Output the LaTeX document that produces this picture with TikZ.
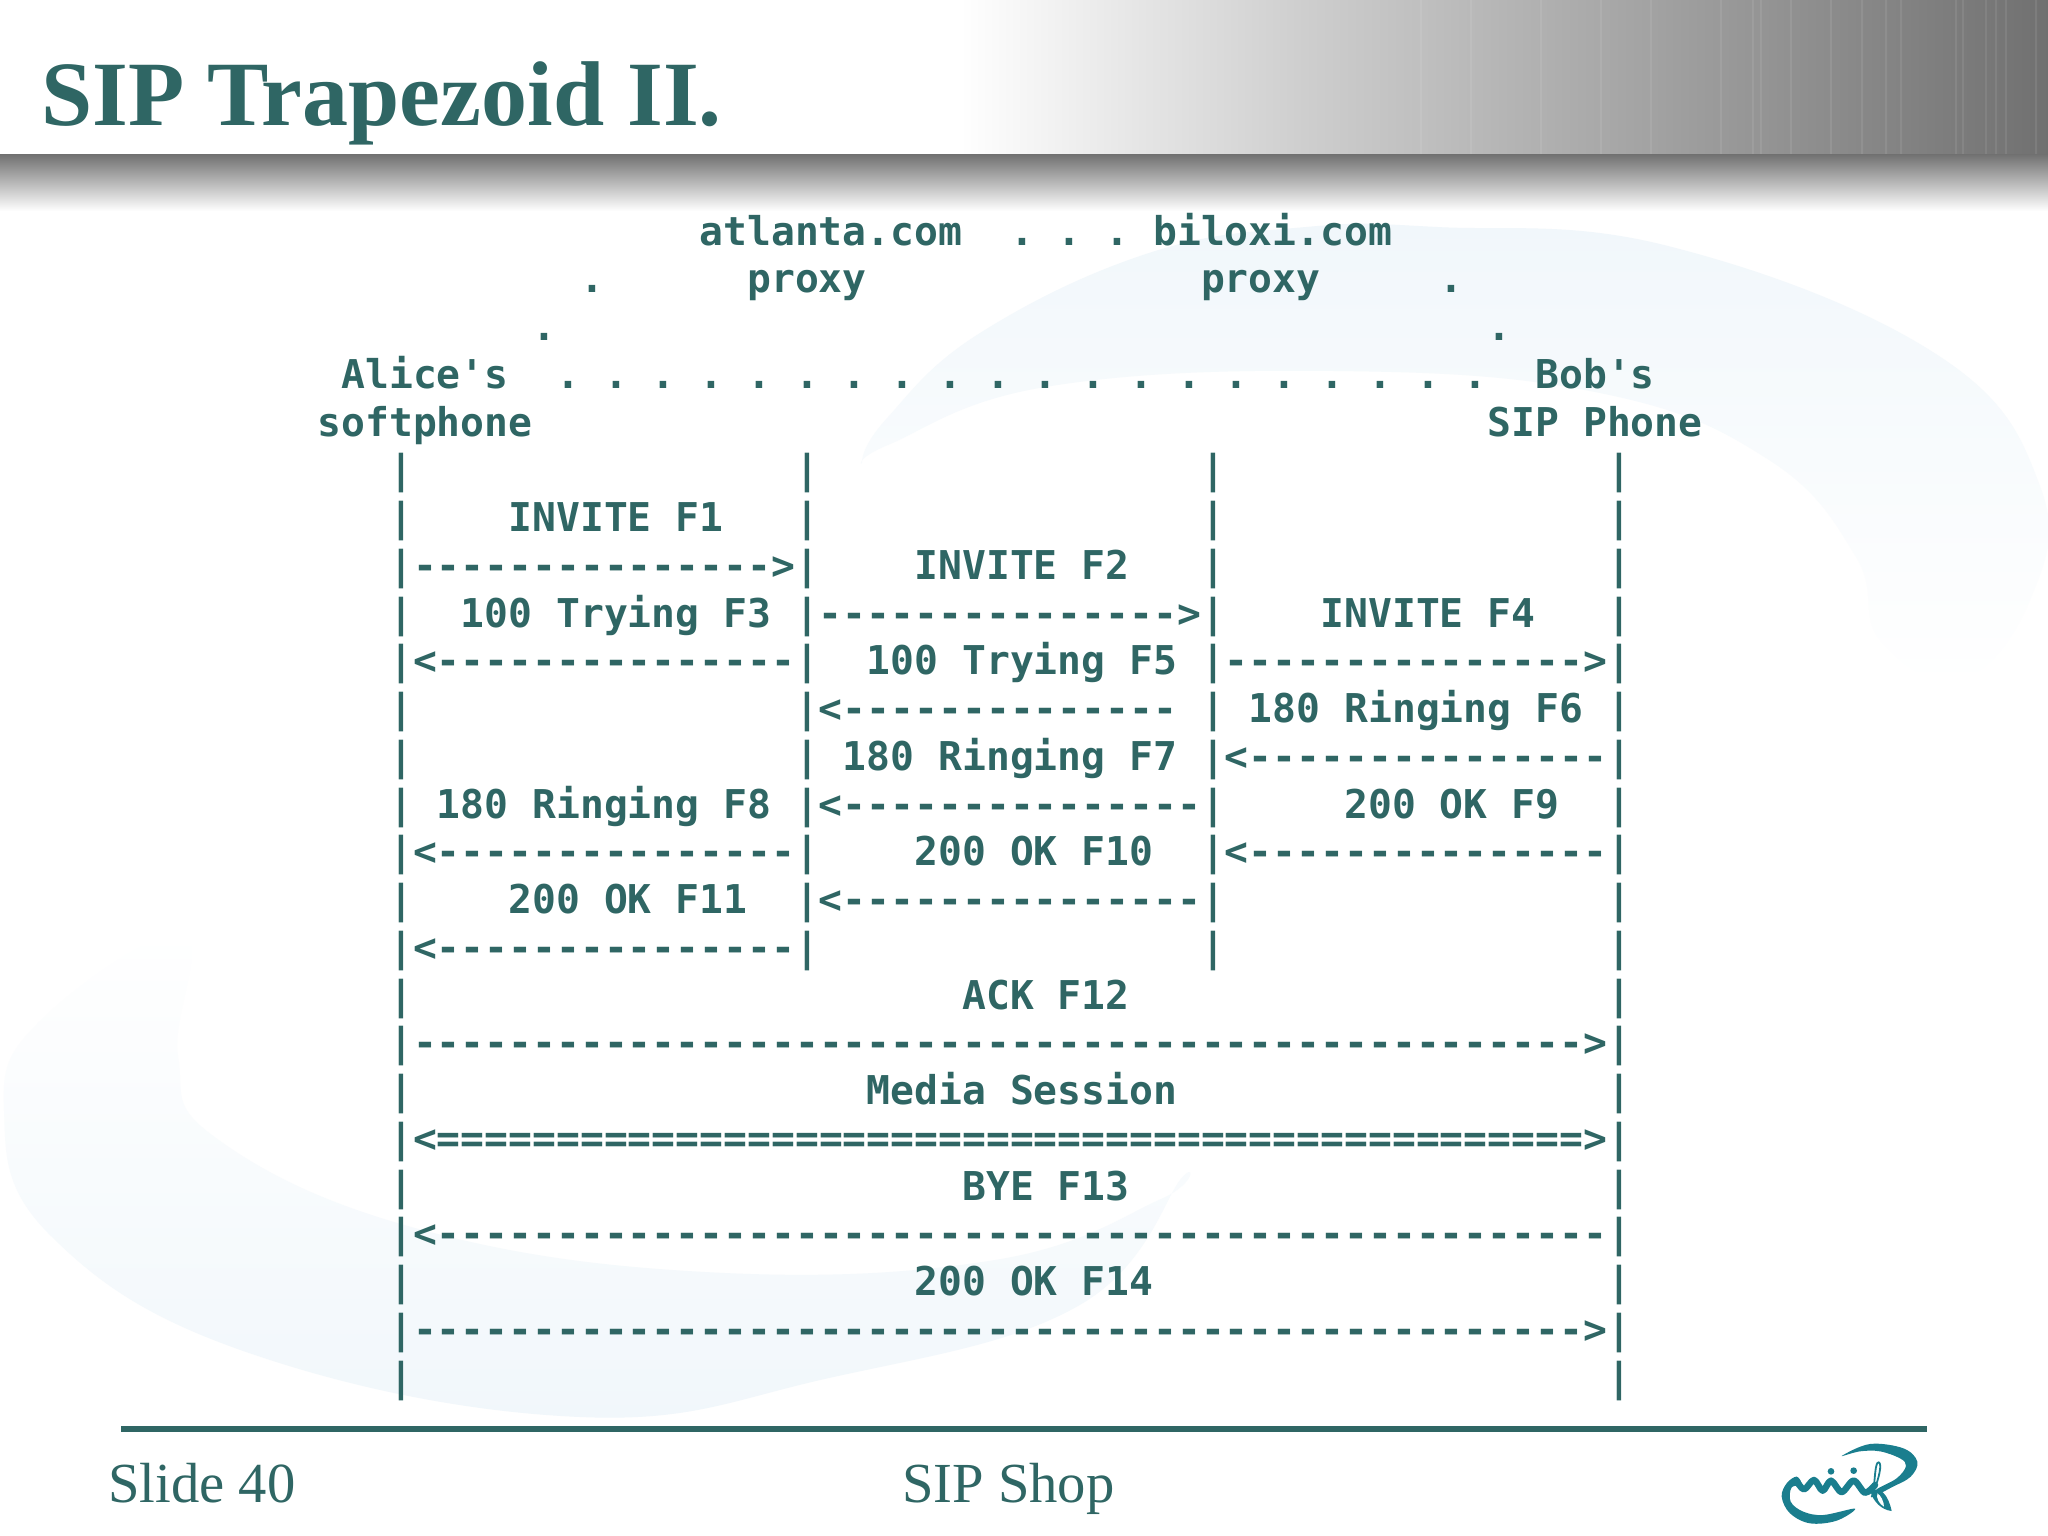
\documentclass[tikz,border=0pt]{standalone}
\usepackage{fontspec}
\setmainfont{Liberation Serif}
\newfontfamily\artfont{DejaVu Sans Mono}
\definecolor{slideteal}{HTML}{2F6664}
\definecolor{swoosh}{HTML}{F1F7FB}
\definecolor{swooshb}{HTML}{F4F9FB}
\definecolor{logoteal}{HTML}{1A7E8E}
\newcommand{\art}[3]{\node[arttext] (r#1c#2) at ({317.5+23.88*#2},{245.1+47.75*#1}) {#3};}
\newcommand{\bars}[2]{\foreach \c in {#2} {\node[arttext] (r#1c\c) at ({317.5+23.88*\c},{245.1+47.75*#1}) {|};}}
\tikzset{
  arttext/.style={anchor=base west,inner sep=0pt,outer sep=0pt,text=slideteal,font=\artfont\bfseries\frenchspacing\fontsize{39.67}{47.8}\selectfont},
  titletext/.style={anchor=base west,inner sep=0pt,text=slideteal,font=\bfseries\fontsize{92}{100}\selectfont},
  foottext/.style={anchor=base west,inner sep=0pt,text=slideteal,font=\fontsize{56.6}{60}\selectfont},
}
\begin{document}
\begin{tikzpicture}[x=1pt,y=-1pt]
\useasboundingbox (0,0) rectangle (2048,1536);
\fill[white] (0,0) rectangle (2048,1536);
% watermark swooshes
\shade[top color=swoosh,middle color=swoosh,bottom color=white] plot[smooth cycle,tension=0.7] coordinates {(862,462) (888,417) (980,333) (1149,253) (1306,227) (1437,227) (1668,246) (1936,354) (2040,486) (2030,600) (1960,680) (1880,640) (1856,557) (1769,460) (1600,393) (1334,371) (1045,387) (888,445)};
\shade[top color=white,middle color=swooshb,bottom color=swoosh] plot[smooth cycle,tension=0.7] coordinates {(182,935) (41,1020) (4,1110) (50,1235) (249,1353) (580,1417) (829,1378) (1078,1306) (1180,1180) (1161,1199) (995,1260) (705,1272) (415,1228) (216,1138) (178,1056)};
% header
\shade[left color=white,right color=black!19] (960,0) rectangle (1300,155);
\shade[left color=black!19,right color=black!56] (1300,0) rectangle (2048,155);
\foreach \xs in {1420,1470,1540,1600,1650,1720,1752,1760,1790,1830,1861,1885,1900,1955,1962,1985,1995,2005,2035}
  \fill[white,opacity=0.08] (\xs,0) rectangle (\xs+2,155);
\shade[top color=black!55,bottom color=white] (0,155) rectangle (2048,211);
% title and footer
\node[titletext] (title) at (41,126) {SIP Trapezoid II.};
\coordinate (ruleL) at (121,1429);
\coordinate (ruleR) at (1927,1429);
\draw[slideteal,line width=6pt] (ruleL) -- (ruleR);
\node[foottext] (slide) at (108,1502) {Slide 40};
\node[foottext] (shop) at (902,1502) {SIP Shop};
% logo
\begin{scope}[shift={(1760,1430)},x=0.3333pt,y=-0.3333pt]
\fill[logoteal] plot[smooth cycle,tension=0.6] coordinates {(245,78) (330,42) (430,55) (472,95) (452,140) (395,172) (335,202) (350,178) (410,145) (438,108) (420,85) (360,64) (300,64)};
\fill[logoteal] plot[smooth cycle,tension=0.6] coordinates {(285,236) (230,272) (150,280) (90,250) (65,200) (80,160) (110,140) (125,165) (95,172) (92,215) (130,245) (190,255)};
\draw[logoteal,line width=6.5pt,line cap=round,line join=round] plot[smooth,tension=0.55] coordinates {(108,150) (132,178) (162,150) (188,182) (213,152) (245,186) (281,152) (315,188) (345,165)};
\fill[logoteal] (332,186) .. controls (360,165) and (385,195) .. (395,243) .. controls (365,240) and (340,215) .. (332,186) -- cycle;
\fill[white] (352,190) .. controls (362,195) and (372,215) .. (372,230) .. controls (358,222) and (348,205) .. (352,190) -- cycle;
\draw[logoteal,line width=1.8pt] (340,185) .. controls (345,150) and (345,95) .. (356,97) .. controls (368,100) and (355,150) .. (343,178);
\fill[logoteal] (213,124) circle[radius=10];
\fill[logoteal] (281,122) circle[radius=10];
\end{scope}
% message chart
\art{0}{16}{atlanta.com}\art{0}{29}{. . .}\art{0}{35}{biloxi.com}
\art{1}{11}{.}\art{1}{18}{proxy}\art{1}{37}{proxy}\art{1}{47}{.}
\art{2}{9}{.}\art{2}{49}{.}
\art{3}{1}{Alice's}\art{3}{10}{. . . . . . . . . . . . . . . . . . . .}\art{3}{51}{Bob's}
\art{4}{0}{softphone}\art{4}{49}{SIP Phone}
\bars{5}{3,20,37,54}
\bars{6}{3,20,37,54}\art{6}{8}{INVITE F1}
\art{7}{3}{|--------------->|}\art{7}{25}{INVITE F2}\bars{7}{37,54}
\bars{8}{3}\art{8}{6}{100 Trying F3}\art{8}{20}{|--------------->|}\art{8}{42}{INVITE F4}\bars{8}{54}
\art{9}{3}{|<---------------|}\art{9}{23}{100 Trying F5}\art{9}{37}{|--------------->|}
\bars{10}{3}\art{10}{20}{|<--------------}\bars{10}{37}\art{10}{39}{180 Ringing F6}\bars{10}{54}
\bars{11}{3,20}\art{11}{22}{180 Ringing F7}\art{11}{37}{|<---------------|}
\bars{12}{3}\art{12}{5}{180 Ringing F8}\art{12}{20}{|<---------------|}\art{12}{43}{200 OK F9}\bars{12}{54}
\art{13}{3}{|<---------------|}\art{13}{25}{200 OK F10}\art{13}{37}{|<---------------|}
\bars{14}{3}\art{14}{8}{200 OK F11}\art{14}{20}{|<---------------|}\bars{14}{54}
\art{15}{3}{|<---------------|}\bars{15}{37,54}
\bars{16}{3}\art{16}{27}{ACK F12}\bars{16}{54}
\art{17}{3}{|------------------------------------------------->|}
\bars{18}{3}\art{18}{23}{Media Session}\bars{18}{54}
\art{19}{3}{|<================================================>|}
\bars{20}{3}\art{20}{27}{BYE F13}\bars{20}{54}
\art{21}{3}{|<-------------------------------------------------|}
\bars{22}{3}\art{22}{25}{200 OK F14}\bars{22}{54}
\art{23}{3}{|------------------------------------------------->|}
\bars{24}{3,54}
\end{tikzpicture}
\end{document}
